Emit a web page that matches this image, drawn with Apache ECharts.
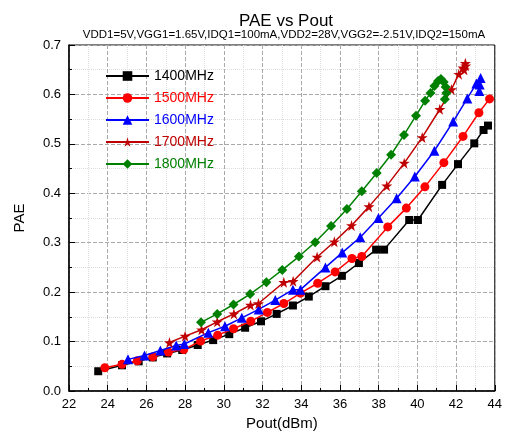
<!DOCTYPE html>
<html><head><meta charset="utf-8">
<script src="https://cdn.jsdelivr.net/npm/echarts@6/dist/echarts.min.js"></script>
<style>html,body{margin:0;padding:0;background:#fff}#c{width:505px;height:437px}</style>
</head><body><div id="c"></div>
<script>
const seriesNames = ['1400MHz','1500MHz','1600MHz','1700MHz','1800MHz'];
const seriesColors = ['#000000','#ff0000','#0000ff','#c00000','#008000'];
const s1400 = [[23.51,0.040],[24.74,0.052],[25.6,0.060],[26.33,0.068],[27.07,0.076],[27.85,0.083],[28.65,0.093],[29.45,0.103],[30.28,0.115],[31.1,0.128],[31.92,0.141],[32.73,0.156],[33.57,0.173],[34.39,0.191],[35.25,0.212],[36.1,0.233],[36.98,0.259],[37.87,0.286],[38.28,0.286],[39.58,0.346],[40.03,0.346],[41.28,0.417],[42.1,0.459],[42.94,0.501],[43.42,0.528],[43.65,0.537]];
const s1500 = [[23.85,0.047],[24.74,0.054],[25.53,0.061],[26.33,0.069],[27.14,0.079],[27.93,0.084],[28.8,0.101],[29.68,0.113],[30.5,0.126],[31.39,0.141],[32.25,0.159],[33.1,0.177],[33.96,0.198],[34.85,0.218],[35.75,0.241],[36.62,0.268],[37.13,0.272],[38.47,0.332],[39.43,0.370],[40.39,0.413],[41.37,0.462],[42.36,0.515],[43.18,0.563],[43.73,0.591]];
const s1600 = [[25.05,0.064],[25.9,0.072],[26.72,0.082],[27.54,0.092],[27.96,0.095],[29.2,0.118],[30.06,0.131],[30.93,0.148],[31.8,0.165],[32.66,0.184],[33.57,0.205],[33.96,0.205],[35.25,0.250],[36.12,0.280],[37.05,0.311],[37.99,0.350],[38.93,0.390],[39.87,0.434],[40.88,0.486],[41.85,0.545],[42.58,0.592],[43.05,0.622],[43.27,0.633],[43.22,0.620],[43.2,0.607]];
const s1700 = [[27.19,0.098],[28.0,0.111],[28.85,0.124],[29.66,0.140],[30.52,0.156],[31.38,0.174],[31.79,0.177],[33.1,0.220],[33.58,0.222],[34.82,0.271],[35.71,0.302],[36.6,0.335],[37.5,0.373],[38.42,0.415],[39.32,0.461],[40.25,0.513],[41.16,0.570],[41.76,0.610],[42.14,0.641],[42.36,0.654],[42.48,0.663],[42.42,0.650],[42.5,0.658]];
const s1800 = [[28.82,0.139],[29.66,0.156],[30.5,0.175],[31.36,0.196],[32.2,0.220],[33.02,0.245],[33.88,0.272],[34.72,0.301],[35.54,0.334],[36.36,0.368],[37.13,0.404],[37.9,0.441],[38.64,0.478],[39.31,0.518],[39.93,0.557],[40.4,0.587],[40.68,0.603],[40.88,0.617],[41.07,0.627],[41.22,0.631],[41.36,0.625],[41.46,0.615],[41.5,0.603],[41.42,0.590]];
const seriesData = [s1400,s1500,s1600,s1700,s1800];
const symbols = ['rect','circle','triangle','path://M50,0 L61,35 L98,35 L68,57 L79,91 L50,70 L21,91 L32,57 L2,35 L39,35 Z','diamond'];
const symbolSizes = [8,9,10,11,10];

const FONT = '"Liberation Sans", Arial, sans-serif';
const chart = echarts.init(document.getElementById('c'), null, {renderer:'canvas'});
chart.setOption({
  animation:false,
  backgroundColor:'#fff',
  title:[
    {text:'PAE vs Pout', left:281, textAlign:'center', top:8, textStyle:{fontFamily:FONT,fontSize:17,fontWeight:'normal',color:'#000'}},
    {text:'VDD1=5V,VGG1=1.65V,IDQ1=100mA,VDD2=28V,VGG2=-2.51V,IDQ2=150mA', left:279, textAlign:'center', top:24, textStyle:{fontFamily:FONT,fontSize:11.5,fontWeight:'normal',color:'#000'}}
  ],
  grid:{left:69, right:8, top:45, bottom:46, show:true, borderColor:'#000', borderWidth:1},
  legend:{
    orient:'vertical', left:100, top:64, itemWidth:43, itemHeight:12, itemGap:8,
    textStyle:{fontFamily:FONT,fontSize:14},
    data: seriesNames.map((n,i)=>({name:n, textStyle:{color:seriesColors[i]}}))
  },
  xAxis:{
    type:'value', min:22, max:44, interval:2,
    name:'Pout(dBm)', nameLocation:'middle', nameGap:25,
    nameTextStyle:{fontFamily:FONT,fontSize:15,color:'#000'},
    axisLine:{show:true,lineStyle:{color:'#000',width:1.5}},
    axisTick:{show:true,inside:true,length:6,lineStyle:{color:'#000'}},
    minorTick:{show:true,splitNumber:2,length:3,lineStyle:{color:'#000'}},
    axisLabel:{fontFamily:FONT,fontSize:13,color:'#000',margin:7},
    splitLine:{show:true,lineStyle:{color:'#aaa',type:'dashed',width:1}},
    minorSplitLine:{show:true,lineStyle:{color:'#ddd',type:'dotted',width:1}}
  },
  yAxis:{
    type:'value', min:0, max:0.7, interval:0.1,
    name:'PAE', nameLocation:'middle', nameGap:42,
    nameTextStyle:{fontFamily:FONT,fontSize:15,color:'#000'},
    axisLine:{show:true,lineStyle:{color:'#000',width:1.5}},
    axisTick:{show:true,inside:true,length:6,lineStyle:{color:'#000'}},
    minorTick:{show:true,splitNumber:2,length:3,lineStyle:{color:'#000'}},
    axisLabel:{fontFamily:FONT,fontSize:13,color:'#000',margin:8,formatter:v=>v.toFixed(1)},
    splitLine:{show:true,lineStyle:{color:'#aaa',type:'dashed',width:1}},
    minorSplitLine:{show:true,lineStyle:{color:'#ddd',type:'dotted',width:1}}
  },
  series: seriesNames.map((n,i)=>({
    name:n, type:'line', data:seriesData[i],
    symbol:symbols[i], symbolSize:symbolSizes[i], showSymbol:true,
    lineStyle:{color:seriesColors[i],width:1.5},
    itemStyle:{color:seriesColors[i]},
    z:2+i
  }))
});
</script></body></html>
